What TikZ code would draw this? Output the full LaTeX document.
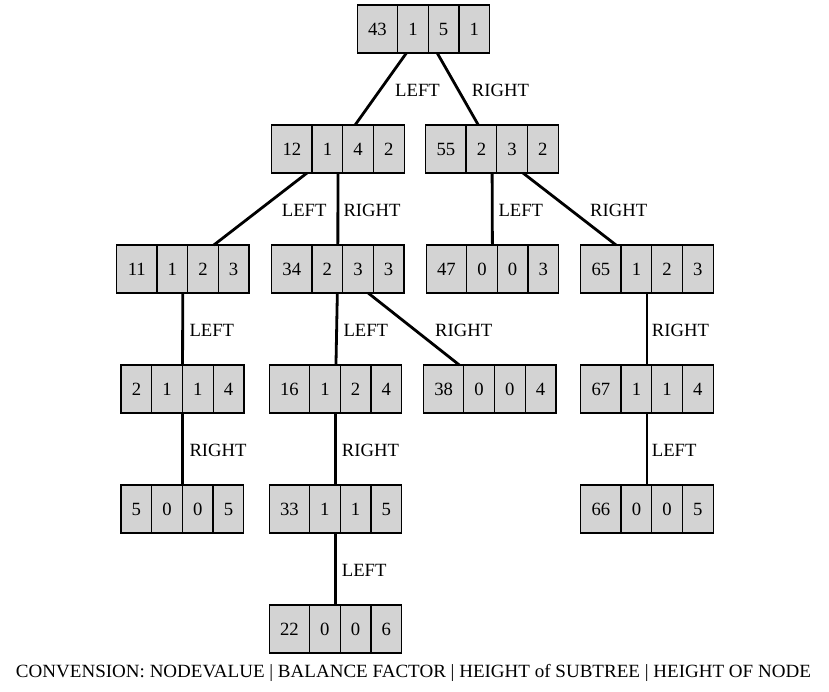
\documentclass[tikz,border=0pt]{standalone}
\usepackage{fontspec}
\setmainfont{Liberation Serif}
\usepackage{graphicx}
\begin{document}
\begin{tikzpicture}[x=1pt,y=-1pt,
  rec/.style={draw=black, line width=1.3pt, fill={rgb,255:red,211;green,211;blue,211}, minimum height=48pt, inner sep=0pt, outer sep=0pt},
  fld/.style={inner sep=0pt, font=\fontsize{18.67}{22}\selectfont},
  divider/.style={line width=1.3pt},
  edge/.style={line width=2.8pt},
  lbl/.style={anchor=west, inner sep=0pt, font=\fontsize{18.67}{22}\selectfont}]
\useasboundingbox (0,0) rectangle (829,691);
\newcommand\rec[8]{%
  \pgfmathsetmacro\recw{#4+3*30.7}%
  \node[rec, minimum width=\recw pt] (#1) at (#2,#3) {};
  \path (#1.west) ++(#4/2,0) node[fld]{#5} ++(#4/2+15.35,0) node[fld]{#6} ++(30.7,0) node[fld]{#7} ++(30.7,0) node[fld]{#8};
  \draw[divider] (#1.north west) ++(#4,0) -- ++(0,48) ++(30.7,-48) -- ++(0,48) ++(30.7,-48) -- ++(0,48);
}
\rec{n43}{423.5}{29}{40.3}{43}{1}{5}{1}
\rec{n12}{338}{149}{40.3}{12}{1}{4}{2}
\rec{n55}{492}{149}{40.3}{55}{2}{3}{2}
\rec{n11}{182.8}{269}{40.3}{11}{1}{2}{3}
\rec{n34}{337.8}{269}{40.3}{34}{2}{3}{3}
\rec{n47}{492.5}{269}{40.3}{47}{0}{0}{3}
\rec{n65}{647}{269}{40.3}{65}{1}{2}{3}
\rec{n2}{182.5}{389}{30.7}{2}{1}{1}{4}
\rec{n16}{335.5}{389}{40.3}{16}{1}{2}{4}
\rec{n38}{489.7}{389}{40.3}{38}{0}{0}{4}
\rec{n67}{647}{389}{40.3}{67}{1}{1}{4}
\rec{n5}{182.4}{509}{30.7}{5}{0}{0}{5}
\rec{n33}{335.4}{509}{40.3}{33}{1}{1}{5}
\rec{n66}{647}{509}{40.3}{66}{0}{0}{5}
\rec{n22}{335.4}{629}{40.3}{22}{0}{0}{6}
% connectors
\draw[edge] (n43) -- (n12);
\draw[edge] (n43) -- (n55);
\draw[edge] (n12) -- (n11);
\draw[edge] (n12) -- (n34);
\draw[edge] (n55) -- (n47);
\draw[edge] (n55) -- (n65);
\draw[edge] (n11) -- (n2);
\draw[edge] (n34) -- (n16);
\draw[edge] (n34) -- (n38);
\draw[edge] (n65) -- (n67);
\draw[edge] (n2) -- (n5);
\draw[edge] (n16) -- (n33);
\draw[edge] (n67) -- (n66);
\draw[edge] (n33) -- (n22);
% labels
\node[lbl] (l1) at (395,90) {LEFT};
\node[lbl] (l2) at (471.7,90) {RIGHT};
\node[lbl] (l3) at (281.7,210) {LEFT};
\node[lbl] (l4) at (343.3,210) {RIGHT};
\node[lbl] (l5) at (498.3,210) {LEFT};
\node[lbl] (l6) at (590,210) {RIGHT};
\node[lbl] (l7) at (189.3,330) {LEFT};
\node[lbl] (l8) at (343.3,330) {LEFT};
\node[lbl] (l9) at (435,330) {RIGHT};
\node[lbl] (l10) at (651.7,330) {RIGHT};
\node[lbl] (l11) at (189.3,450) {RIGHT};
\node[lbl] (l12) at (341.7,450) {RIGHT};
\node[lbl] (l13) at (651.7,450) {LEFT};
\node[lbl] (l14) at (341.7,570) {LEFT};
% caption
\node[inner sep=0pt, anchor=base, font=\fontsize{18.67}{22}\selectfont] (cap) at (413.5,677) {\resizebox{795pt}{\height}{CONVENSION: NODEVALUE | BALANCE FACTOR | HEIGHT of SUBTREE | HEIGHT OF NODE}};
\end{tikzpicture}
\end{document}
